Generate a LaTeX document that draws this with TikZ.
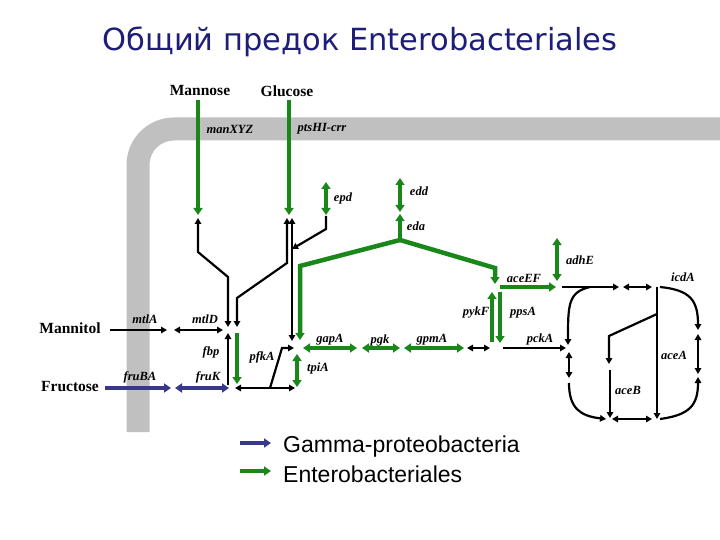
\documentclass[tikz,border=0pt]{standalone}
\usepackage{fontspec}
\setmainfont{Liberation Serif}
\newfontfamily\arial{Liberation Sans}
\newfontfamily\dejavu{DejaVu Sans}
\usetikzlibrary{arrows.meta}
\definecolor{gr}{RGB}{25,135,25}
\definecolor{bl}{RGB}{55,55,140}
\definecolor{mem}{RGB}{192,192,192}
\definecolor{tt}{RGB}{30,30,120}
\tikzset{
 g/.style={draw=gr,line width=4.5pt,-{Triangle[length=7pt,width=9pt]}},
 gg/.style={g,{Triangle[length=7pt,width=9pt]}-{Triangle[length=7pt,width=9pt]}},
 k/.style={draw=black,line width=2.2pt,-{Triangle[length=6pt,width=6.5pt]},line join=miter},
 kk/.style={k,{Triangle[length=6pt,width=6.5pt]}-{Triangle[length=6pt,width=6.5pt]}},
 b/.style={draw=bl,line width=4pt,-{Triangle[length=7pt,width=9pt]}},
 bb/.style={b,{Triangle[length=7pt,width=9pt]}-{Triangle[length=7pt,width=9pt]}},
 lab/.style={font=\fontsize{12.5}{12}\selectfont\bfseries\itshape,inner sep=0pt},
 met/.style={font=\fontsize{15.5}{15}\selectfont\bfseries,inner sep=0pt},
}
\begin{document}
\begin{tikzpicture}[x=1pt,y=-1pt]
\useasboundingbox (0,0) rectangle (720,540);
% membrane
\draw[mem,line width=23pt,rounded corners=36pt] (138,432) -- (138,129) -- (720,129);
\node[font=\dejavu\fontsize{30.5}{32}\selectfont,text=tt] (title) at (360,42) {Общий предок Enterobacteriales};
\node[met] (man) at (200,91) {Mannose};
\node[met] (glc) at (287,91) {Glucose};
\node[met] (mtl) at (70,328) {Mannitol};
\node[met] (fru) at (70,387) {Fructose};
% labels
\node[lab] (l1) at (230,129) {manXYZ};
\node[lab] (l2) at (322,129) {ptsHI-crr};
\node[lab] (l3) at (343,198) {epd};
\node[lab] (l4) at (419,191) {edd};
\node[lab] (l5) at (416,226) {eda};
\node[lab] (l6) at (524,278) {aceEF};
\node[lab] (l7) at (580,260) {adhE};
\node[lab] (l8) at (683,277) {icdA};
\node[lab] (l9) at (476,313) {pykF};
\node[lab] (l10) at (523,313) {ppsA};
\node[lab] (l11) at (540,339) {pckA};
\node[lab] (l12) at (432,340) {gpmA};
\node[lab] (l13) at (380,340) {pgk};
\node[lab] (l14) at (330,340) {gapA};
\node[lab] (l15) at (318,368) {tpiA};
\node[lab] (l16) at (145,319) {mtlA};
\node[lab] (l17) at (205,319) {mtlD};
\node[lab] (l18) at (211,352) {fbp};
\node[lab] (l19) at (262,357) {pfkA};
\node[lab] (l20) at (140,377) {fruBA};
\node[lab] (l21) at (208,377) {fruK};
\node[lab] (l22) at (674,355) {aceA};
\node[lab] (l23) at (628,390) {aceB};
% green
\draw[g] (198,100) -- (198,215);
\draw[g] (289,100) -- (289,215);
\draw[gg] (326,182) -- (326,215);
\draw[gg] (400,178) -- (400,212);
\draw[g] (400,240) -- (400,214);
\draw[g] (400,240) -- (300,266) -- (300,340);
\draw[g] (400,240) -- (495,268) -- (495,284);
\draw[g] (500,287) -- (556,287);
\draw[gg] (557,238) -- (557,281);
\draw[g] (492,342) -- (492,292);
\draw[g] (500,292) -- (500,343);
\draw[gg] (303,348) -- (357,348);
\draw[gg] (362,348) -- (400,348);
\draw[gg] (404,348) -- (464,348);
\draw[gg] (297,354) -- (297,387);
\draw[g] (237,333) -- (237,384);
% black
\draw[kk] (198,218) -- (198,252) -- (228,277) -- (228,327);
\draw[kk] (287,218) -- (287,263) -- (237,298) -- (237,327);
\draw[kk] (292,218) -- (292,341);
\draw[k] (326,216) -- (326,229) -- (292,249);
\draw[kk] (235,388) -- (295,388);
\draw[k] (270,388) -- (282,348) -- (294,348);
\draw[k] (228,385) -- (228,333);
\draw[k] (110,330) -- (167,330);
\draw[kk] (174,330) -- (223,330);
\draw[kk] (467,348) -- (490,348);
\draw[k] (503,348) -- (566,348);
\draw[k] (562,287) -- (619,287);
\draw[kk] (623,287) -- (652,287);
\draw[k] (590,287) .. controls (568,292) and (568,305) .. (568,345);
\draw[kk] (569,352) -- (569,378);
\draw[k] (569,383) .. controls (569,408) and (580,416) .. (606,419);
\draw[kk] (612,419) -- (652,419);
\draw[k] (660,419) .. controls (690,415) and (698,405) .. (698,377);
\draw[kk] (698,334) -- (698,374);
\draw[k] (660,287) .. controls (690,290) and (698,300) .. (698,330);
\draw[k] (657,287) -- (657,419);
\draw[k] (657,314) -- (609,336) -- (609,364);
\draw[k] (610,370) -- (610,418);
% blue
\draw[b] (105,388) -- (171,388);
\draw[bb] (175,388) -- (229,388);
% legend
\draw[b] (240,443) -- (271,443);
\draw[g] (240,471) -- (271,471);
\node[font=\arial\fontsize{23}{24}\selectfont,anchor=west,inner sep=0pt] (lg1) at (283,447) {Gamma-proteobacteria};
\node[font=\arial\fontsize{23}{24}\selectfont,anchor=west,inner sep=0pt] (lg2) at (283,474) {Enterobacteriales};
\end{tikzpicture}
\end{document}
